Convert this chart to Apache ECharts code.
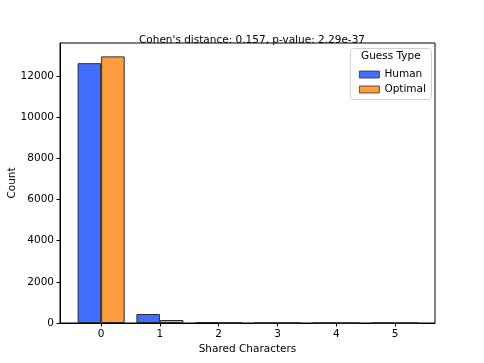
<!DOCTYPE html>
<html>
<head>
<meta charset="utf-8">
<script src="https://cdn.jsdelivr.net/npm/echarts@6/dist/echarts.min.js"></script>
<style>
  html, body { margin: 0; padding: 0; background: #fff; }
  #chart { width: 484px; height: 363px; }
</style>
</head>
<body>
<div id="chart"></div>
<script>
// shared characters bins
const bins = [0, 1, 2, 3, 4, 5]
const human = [12620, 437, 45, 7, 3, 2]
const optimal = [12950, 145, 12, 3, 1, 1]
const yTicks = [0, 2000, 4000, 6000, 8000, 10000, 12000]

const font = 'DejaVu Sans'
const my_echart = echarts.init(document.getElementById('chart'), null, {renderer: 'canvas'})

const unitPx = 58.8 // px per bin on the x axis
const barW = unitPx * 0.4

my_echart.setOption({
  animation: false,
  textStyle: { fontFamily: font },
  title: {
    text: "Cohen's distance: 0.157, p-value: 2.29e-37",
    left: 247, top: 30,
    textAlign: 'center',
    textStyle: { fontFamily: font, fontSize: 10.5, fontWeight: 'normal', color: '#000' }
  },
  grid: {
    left: 60, right: 49, top: 43, bottom: 40,
    outerBoundsMode: 'none', containLabel: false,
    show: true, borderColor: '#000', borderWidth: 1
  },
  legend: {
    orient: 'vertical',
    left: 354, top: 64,
    icon: 'rect',
    itemWidth: 20, itemHeight: 7, itemGap: 4,
    itemStyle: { borderWidth: 0.8, borderColor: '#333' },
    textStyle: { fontFamily: font, fontSize: 10.5, color: '#000' },
    data: ['Human', 'Optimal']
  },
  graphic: [
    {
      type: 'rect', left: 350, top: 48, z: -1,
      shape: { width: 81, height: 51, r: 3 },
      style: { fill: 'rgba(255,255,255,0.8)', stroke: '#d0d0d0', lineWidth: 1 }
    },
    {
      type: 'text', left: 361, top: 51,
      style: { text: 'Guess Type', font: '10.5px "DejaVu Sans"', fill: '#000' }
    }
  ],
  xAxis: {
    type: 'value',
    min: -0.7, max: 5.68,
    name: 'Shared Characters', nameLocation: 'middle', nameGap: 21,
    nameMoveOverlap: false,
    nameTextStyle: { fontFamily: font, fontSize: 10.5, color: '#000' },
    splitLine: { show: false },
    axisLine: { show: true, onZero: false, lineStyle: { color: '#000', width: 1 } },
    axisTick: { show: true, length: 3.5, customValues: bins, lineStyle: { color: '#000' } },
    axisLabel: { customValues: bins, fontFamily: font, fontSize: 10.5, color: '#000', margin: 6 }
  },
  yAxis: {
    type: 'value',
    min: 0, max: 13600,
    name: 'Count', nameLocation: 'middle', nameGap: 42, nameRotate: 90,
    nameMoveOverlap: false,
    nameTextStyle: { fontFamily: font, fontSize: 10.5, color: '#000' },
    splitLine: { show: false },
    axisLine: { show: true, onZero: false, lineStyle: { color: '#000', width: 1 } },
    axisTick: { show: true, length: 3.5, customValues: yTicks, lineStyle: { color: '#000' } },
    axisLabel: {
      customValues: yTicks, fontFamily: font, fontSize: 10.5, color: '#000', margin: 6,
      formatter: (v) => String(v)
    }
  },
  series: [
    {
      name: 'Human', type: 'bar',
      barWidth: barW, barGap: '0%',
      data: bins.map((b, i) => [b, human[i]]),
      itemStyle: { color: '#416eff', borderColor: '#2b2b2b', borderWidth: 1 }
    },
    {
      name: 'Optimal', type: 'bar',
      barWidth: barW, barGap: '0%',
      data: bins.map((b, i) => [b, optimal[i]]),
      itemStyle: { color: '#ff9d40', borderColor: '#2b2b2b', borderWidth: 1 }
    }
  ]
})
</script>
</body>
</html>
